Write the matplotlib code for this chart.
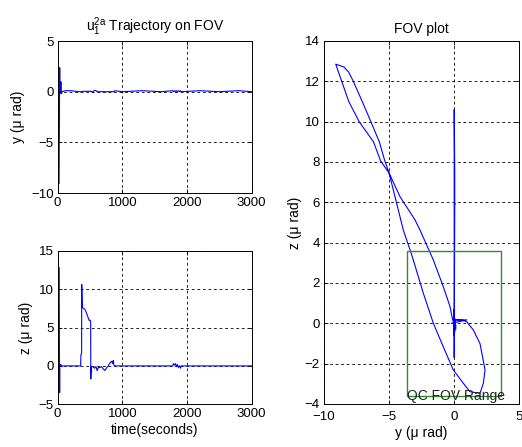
import numpy as np
import matplotlib
matplotlib.use('Agg')
import matplotlib.pyplot as plt
from matplotlib.patches import Rectangle

plt.rcParams['font.family'] = ['Liberation Sans', 'DejaVu Sans']
plt.rcParams['lines.scale_dashes'] = False

# --- start of the run: the loop across the field of view (y, z in micro-rad) ---
loop_t = [6, 7, 7.5, 8, 8.5, 9, 9.5, 10, 11, 12, 13, 14, 15, 16, 17, 18, 19, 20, 21,
          22, 23, 24, 25, 26, 26.5, 27, 27.5, 28, 28.5, 29, 29.5, 30, 30.5, 31, 31.5,
          32, 32.5, 33, 33.5, 34]
loop_y = [0.0, -0.12, -0.32, -0.84, -1.6, -2.63, -3.01, -4.16, -5.0, -5.65, -6.2,
          -7.3, -8.1, -8.64, -9.1, -8.46, -8.1, -7.75, -7.2, -6.4, -5.75, -5.35, -5.0,
          -3.91, -3.39, -3.14, -2.37, -1.6, -0.84, -0.07, 0.7, 1.21, 1.98, 2.24, 2.37,
          1.98, 1.47, 0.96, 0.57, 0.0]
loop_z = [0.0, 0.17, 0.83, 1.82, 3.14, 4.63, 5.13, 6.28, 7.45, 8.05, 9.0, 10.0,
          11.0, 12.0, 12.85, 12.71, 12.45, 12.0, 11.2, 10.0, 9.0, 8.1, 7.45, 4.63,
          3.64, 3.14, 1.49, 0.0, -1.16, -2.31, -2.97, -3.39, -3.47, -2.97, -2.31,
          -1.0, -0.33, 0.08, 0.17, 0.17]

# --- rest of the run ---
tail_t = [38, 45, 50, 53, 60, 120, 200, 330, 355, 360, 370, 372, 380, 400, 422,
          440, 458, 475, 489, 500, 510, 512, 520, 545, 570, 593, 610, 630, 654, 680,
          706, 731, 760, 783, 809, 835, 850, 860, 870, 880, 1000, 1300, 1600, 1780,
          1790, 1805, 1820, 1835, 1850, 1870, 1885, 1900, 1910, 2200, 2500, 2800, 3000]
tail_y = [0.0, 0.0, 0.98, -0.2, 0.0, 0.1, 0.1, 0.0, 0.0, 0.0, 0.0, 0.0, 0.04, 0.04,
          0.04, 0.04, 0.04, 0.04, 0.04, 0.04, 0.04, 0.0, 0.0, 0.0, 0.12, 0.12, 0.0,
          0.0, 0.0, 0.0, 0.0, 0.0, 0.0, 0.0, 0.0, 0.0, 0.0, 0.0, 0.0, 0.1, 0.0, 0.1,
          0.0, 0.1, 0.0, 0.1, 0.0, 0.1, 0.0, 0.1, 0.0, 0.1, 0.0, 0.1, 0.0, 0.1, 0.0]
tail_z = [0.17, 0.17, 0.17, 0.0, 0.0, 0.0, 0.0, 0.0, 0.0, 1.5, 1.6, 10.6, 7.6, 7.5,
          7.35, 7.0, 6.6, 6.2, 5.9, 5.95, 5.8, -1.7, -0.1, -0.1, -0.3, -0.1, -0.6,
          -0.2, -0.2, -0.1, -0.4, -0.6, -0.2, 0.0, 0.4, 0.6, 0.3, 0.7, 0.1, 0.0, 0.0,
          0.0, 0.0, 0.0, 0.3, 0.1, 0.3, -0.1, 0.2, -0.2, 0.0, -0.3, 0.0, 0.0, 0.0,
          0.0, 0.0]

# QC field of view half-width
qc_half = 3.6

t = np.array(loop_t + tail_t)
y = np.array(loop_y + tail_y)
z = np.array(loop_z + tail_z)

grid_kw = dict(color='k', linestyle=(0, (2, 2)), linewidth=0.6)


def style(ax):
    ax.grid(True, **grid_kw)
    ax.tick_params(direction='in', top=True, right=True, length=3, width=0.6,
                   labelsize=9.5, pad=3)
    for s in ax.spines.values():
        s.set_linewidth(0.7)


fig = plt.figure(figsize=(5.22, 4.47), dpi=100)

ax1 = fig.add_axes([0.1105, 0.5682, 0.3716, 0.340])
ax1.plot(t, y, color='b', lw=0.8)
ax1.set_xlim(0, 3000)
ax1.set_ylim(-10, 5)
ax1.set_xticks([0, 1000, 2000, 3000])
ax1.set_yticks([-10, -5, 0, 5])
ax1.set_ylabel('y (\u03bc rad)', fontsize=10, labelpad=4)
ax1.set_title(r'$\mathregular{u_1^{2a}}$ Trajectory on FOV', fontsize=10, pad=7)
style(ax1)

ax2 = fig.add_axes([0.1105, 0.0955, 0.3716, 0.3436])
ax2.plot(t, z, color='b', lw=0.8)
ax2.set_xlim(0, 3000)
ax2.set_ylim(-5, 15)
ax2.set_xticks([0, 1000, 2000, 3000])
ax2.set_yticks([-5, 0, 5, 10, 15])
ax2.set_ylabel('z (\u03bc rad)', fontsize=10, labelpad=4)
ax2.set_xlabel('time(seconds)', fontsize=10, labelpad=2)
style(ax2)

ax3 = fig.add_axes([0.6207, 0.0962, 0.3741, 0.8121])
ax3.plot(y, z, color='b', lw=0.8)
ax3.add_patch(Rectangle((-qc_half, -qc_half), 2 * qc_half, 2 * qc_half,
                        fill=False, edgecolor='#2a8f2a', lw=1.0, zorder=3))
ax3.text(-qc_half, -qc_half, 'QC FOV Range', fontsize=10, ha='left', va='center',
         color='#222222', zorder=4)
ax3.set_xlim(-10, 5)
ax3.set_ylim(-4, 14)
ax3.set_xticks([-10, -5, 0, 5])
ax3.set_yticks(np.arange(-4, 15, 2))
ax3.set_xlabel('y (\u03bc rad)', fontsize=10, labelpad=2)
ax3.set_ylabel('z (\u03bc rad)', fontsize=10, labelpad=2)
ax3.set_title('FOV plot', fontsize=10, pad=6)
style(ax3)
ax3.tick_params(axis='x', pad=5)

fig.savefig('out.png', dpi=100)
